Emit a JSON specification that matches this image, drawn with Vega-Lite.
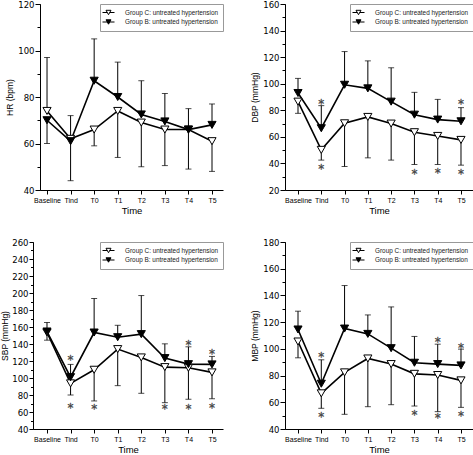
{
  "$schema": "https://vega.github.io/schema/vega-lite/v6.json",
  "autosize": {"type": "pad"},
  "padding": 0,
  "background": "white",
  "datasets": {
    "vals": [
      {"panel":"HR","group":"Group C: untreated hypertension","time":"Baseline","value":74,"err":97},
      {"panel":"HR","group":"Group C: untreated hypertension","time":"Tind","value":62,"err":72},
      {"panel":"HR","group":"Group C: untreated hypertension","time":"T0","value":66,"err":59},
      {"panel":"HR","group":"Group C: untreated hypertension","time":"T1","value":74,"err":54},
      {"panel":"HR","group":"Group C: untreated hypertension","time":"T2","value":69,"err":50},
      {"panel":"HR","group":"Group C: untreated hypertension","time":"T3","value":66,"err":50.5},
      {"panel":"HR","group":"Group C: untreated hypertension","time":"T4","value":66,"err":49},
      {"panel":"HR","group":"Group C: untreated hypertension","time":"T5","value":61,"err":48},
      {"panel":"HR","group":"Group B: untreated hypertension","time":"Baseline","value":70,"err":60},
      {"panel":"HR","group":"Group B: untreated hypertension","time":"Tind","value":61,"err":44},
      {"panel":"HR","group":"Group B: untreated hypertension","time":"T0","value":87,"err":105},
      {"panel":"HR","group":"Group B: untreated hypertension","time":"T1","value":80,"err":95},
      {"panel":"HR","group":"Group B: untreated hypertension","time":"T2","value":72.5,"err":87},
      {"panel":"HR","group":"Group B: untreated hypertension","time":"T3","value":69.5,"err":81.5},
      {"panel":"HR","group":"Group B: untreated hypertension","time":"T4","value":66,"err":75},
      {"panel":"HR","group":"Group B: untreated hypertension","time":"T5","value":68,"err":77},

      {"panel":"DBP","group":"Group C: untreated hypertension","time":"Baseline","value":86.5,"err":77.7},
      {"panel":"DBP","group":"Group C: untreated hypertension","time":"Tind","value":50.2,"err":42.5},
      {"panel":"DBP","group":"Group C: untreated hypertension","time":"T0","value":70.2,"err":37.7},
      {"panel":"DBP","group":"Group C: untreated hypertension","time":"T1","value":75,"err":44.2},
      {"panel":"DBP","group":"Group C: untreated hypertension","time":"T2","value":70,"err":42.5},
      {"panel":"DBP","group":"Group C: untreated hypertension","time":"T3","value":63.5,"err":39.2},
      {"panel":"DBP","group":"Group C: untreated hypertension","time":"T4","value":60.7,"err":39.2},
      {"panel":"DBP","group":"Group C: untreated hypertension","time":"T5","value":57.7,"err":38.7},
      {"panel":"DBP","group":"Group B: untreated hypertension","time":"Baseline","value":93,"err":104},
      {"panel":"DBP","group":"Group B: untreated hypertension","time":"Tind","value":66.5,"err":83.5},
      {"panel":"DBP","group":"Group B: untreated hypertension","time":"T0","value":99.2,"err":124.2},
      {"panel":"DBP","group":"Group B: untreated hypertension","time":"T1","value":96.5,"err":117.2},
      {"panel":"DBP","group":"Group B: untreated hypertension","time":"T2","value":86.5,"err":112},
      {"panel":"DBP","group":"Group B: untreated hypertension","time":"T3","value":76.7,"err":93.5},
      {"panel":"DBP","group":"Group B: untreated hypertension","time":"T4","value":73,"err":88.2},
      {"panel":"DBP","group":"Group B: untreated hypertension","time":"T5","value":71.7,"err":82},

      {"panel":"SBP","group":"Group C: untreated hypertension","time":"Baseline","value":153.5,"err":144.5},
      {"panel":"SBP","group":"Group C: untreated hypertension","time":"Tind","value":93.7,"err":80},
      {"panel":"SBP","group":"Group C: untreated hypertension","time":"T0","value":109.7,"err":73},
      {"panel":"SBP","group":"Group C: untreated hypertension","time":"T1","value":134,"err":91},
      {"panel":"SBP","group":"Group C: untreated hypertension","time":"T2","value":124.2,"err":82},
      {"panel":"SBP","group":"Group C: untreated hypertension","time":"T3","value":112.8,"err":71},
      {"panel":"SBP","group":"Group C: untreated hypertension","time":"T4","value":112,"err":75},
      {"panel":"SBP","group":"Group C: untreated hypertension","time":"T5","value":106.6,"err":75.6},
      {"panel":"SBP","group":"Group B: untreated hypertension","time":"Baseline","value":154.7,"err":165.3},
      {"panel":"SBP","group":"Group B: untreated hypertension","time":"Tind","value":101,"err":116},
      {"panel":"SBP","group":"Group B: untreated hypertension","time":"T0","value":153.5,"err":193.5},
      {"panel":"SBP","group":"Group B: untreated hypertension","time":"T1","value":148,"err":162},
      {"panel":"SBP","group":"Group B: untreated hypertension","time":"T2","value":151.6,"err":197},
      {"panel":"SBP","group":"Group B: untreated hypertension","time":"T3","value":123.4,"err":140.2},
      {"panel":"SBP","group":"Group B: untreated hypertension","time":"T4","value":116.3,"err":136.7},
      {"panel":"SBP","group":"Group B: untreated hypertension","time":"T5","value":116,"err":125.4},

      {"panel":"MBP","group":"Group C: untreated hypertension","time":"Baseline","value":105.5,"err":93.3},
      {"panel":"MBP","group":"Group C: untreated hypertension","time":"Tind","value":66.7,"err":55.5},
      {"panel":"MBP","group":"Group C: untreated hypertension","time":"T0","value":82.4,"err":51},
      {"panel":"MBP","group":"Group C: untreated hypertension","time":"T1","value":92.8,"err":56.7},
      {"panel":"MBP","group":"Group C: untreated hypertension","time":"T2","value":88.6,"err":58.2},
      {"panel":"MBP","group":"Group C: untreated hypertension","time":"T3","value":81.3,"err":57.2},
      {"panel":"MBP","group":"Group C: untreated hypertension","time":"T4","value":80.4,"err":53},
      {"panel":"MBP","group":"Group C: untreated hypertension","time":"T5","value":76.4,"err":56.2},
      {"panel":"MBP","group":"Group B: untreated hypertension","time":"Baseline","value":114.5,"err":128.2},
      {"panel":"MBP","group":"Group B: untreated hypertension","time":"Tind","value":73.9,"err":91.8},
      {"panel":"MBP","group":"Group B: untreated hypertension","time":"T0","value":115.2,"err":147.4},
      {"panel":"MBP","group":"Group B: untreated hypertension","time":"T1","value":111.2,"err":125.4},
      {"panel":"MBP","group":"Group B: untreated hypertension","time":"T2","value":100.5,"err":131.4},
      {"panel":"MBP","group":"Group B: untreated hypertension","time":"T3","value":89.6,"err":109.3},
      {"panel":"MBP","group":"Group B: untreated hypertension","time":"T4","value":88.6,"err":103.5},
      {"panel":"MBP","group":"Group B: untreated hypertension","time":"T5","value":87.6,"err":99.8}
    ],
    "stars": [
      {"panel":"DBP","time":"Tind","y":87.7,"mark":"*"},
      {"panel":"DBP","time":"Tind","y":39,"mark":"*"},
      {"panel":"DBP","time":"T3","y":34.7,"mark":"*"},
      {"panel":"DBP","time":"T4","y":35.7,"mark":"*"},
      {"panel":"DBP","time":"T5","y":34.7,"mark":"*"},
      {"panel":"DBP","time":"T5","y":87.5,"mark":"*"},
      {"panel":"SBP","time":"Tind","y":126,"mark":"*"},
      {"panel":"SBP","time":"Tind","y":70,"mark":"*"},
      {"panel":"SBP","time":"T0","y":68,"mark":"*"},
      {"panel":"SBP","time":"T3","y":68,"mark":"*"},
      {"panel":"SBP","time":"T4","y":143.3,"mark":"*"},
      {"panel":"SBP","time":"T4","y":68,"mark":"*"},
      {"panel":"SBP","time":"T5","y":133,"mark":"*"},
      {"panel":"SBP","time":"T5","y":69.7,"mark":"*"},
      {"panel":"MBP","time":"Tind","y":96.8,"mark":"*"},
      {"panel":"MBP","time":"Tind","y":52,"mark":"*"},
      {"panel":"MBP","time":"T3","y":53.7,"mark":"*"},
      {"panel":"MBP","time":"T4","y":108.5,"mark":"*"},
      {"panel":"MBP","time":"T4","y":51.4,"mark":"*"},
      {"panel":"MBP","time":"T5","y":104,"mark":"*"},
      {"panel":"MBP","time":"T5","y":53,"mark":"*"}
    ]
  },
  "columns": 2,
  "bounds": "flush",
  "spacing": {"row": 52, "column": 62},
  "resolve": {"scale": {"fill": "independent"}, "legend": {"fill": "independent"}},
  "concat": [
    {
      "width": 183, "height": 186,
      "resolve": {"axis": {"y": "independent"}},
      "layer": [
        {"data": {"name": "vals"}, "transform": [{"filter": "datum.panel === 'HR'"}],
         "mark": {"type": "rule", "color": "black", "strokeWidth": 1},
         "encoding": {
           "x": {"field": "time", "type": "ordinal", "scale": {"type": "point", "domain": ["Baseline","Tind","T0","T1","T2","T3","T4","T5"], "padding": 0.382, "align": 0.39}, "axis": {"title": "Time", "labelAngle": 0, "labelFontSize": 7, "labelPadding": 2, "tickSize": 4, "titleFontSize": 9.5, "titlePadding": 2, "titleFontWeight": "normal"}},
           "y": {"field": "value", "type": "quantitative", "scale": {"domain": [40,120], "nice": false, "zero": false}, "axis": {"orient": "left", "values": [40,60,80,100,120], "tickSize": 5, "labelFont": "DejaVu Sans", "labelFontSize": 8.5, "labelPadding": 1, "title": "HR (bpm)", "titleFontSize": 8.5, "titlePadding": 3, "titleFontWeight": "normal"}},
           "y2": {"field": "err"}
         }},
        {"data": {"name": "vals"}, "transform": [{"filter": "datum.panel === 'HR'"}],
         "mark": {"type": "tick", "color": "black", "size": 6, "thickness": 1, "orient": "horizontal"},
         "encoding": {
           "x": {"field": "time", "type": "ordinal", "scale": {"type": "point", "domain": ["Baseline","Tind","T0","T1","T2","T3","T4","T5"], "padding": 0.382, "align": 0.39}, "axis": {"title": "Time", "labelAngle": 0, "labelFontSize": 7, "labelPadding": 2, "tickSize": 4, "titleFontSize": 9.5, "titlePadding": 2, "titleFontWeight": "normal"}},
           "y": {"field": "err", "type": "quantitative", "axis": {"orient": "left", "values": [40,50,60,70,80,90,100,110,120], "tickSize": 3, "labels": false, "domain": false, "title": null}}
         }},
        {"data": {"name": "vals"}, "transform": [{"filter": "datum.panel === 'HR'"}],
         "mark": {"type": "line", "color": "black", "strokeWidth": 1.6},
         "encoding": {
           "x": {"field": "time", "type": "ordinal", "scale": {"type": "point", "domain": ["Baseline","Tind","T0","T1","T2","T3","T4","T5"], "padding": 0.382, "align": 0.39}, "axis": {"title": "Time", "labelAngle": 0, "labelFontSize": 7, "labelPadding": 2, "tickSize": 4, "titleFontSize": 9.5, "titlePadding": 2, "titleFontWeight": "normal"}},
           "y": {"field": "value", "type": "quantitative", "axis": null},
           "detail": {"field": "group"},
           "order": {"value": null}
         }},
        {"data": {"name": "vals"}, "transform": [{"filter": "datum.panel === 'HR'"}],
         "mark": {"type": "point", "shape": "triangle-down", "filled": true, "stroke": "black", "strokeWidth": 1, "size": 66, "opacity": 1},
         "encoding": {
           "x": {"field": "time", "type": "ordinal", "scale": {"type": "point", "domain": ["Baseline","Tind","T0","T1","T2","T3","T4","T5"], "padding": 0.382, "align": 0.39}, "axis": {"title": "Time", "labelAngle": 0, "labelFontSize": 7, "labelPadding": 2, "tickSize": 4, "titleFontSize": 9.5, "titlePadding": 2, "titleFontWeight": "normal"}},
           "y": {"field": "value", "type": "quantitative", "axis": null},
           "fill": {"field": "group", "type": "nominal", "scale": {"domain": ["Group C: untreated hypertension","Group B: untreated hypertension"], "range": ["white","black"]},
             "legend": {"title": null, "orient": "top-right", "offset": 0, "padding": 4, "strokeColor": "#999", "fillColor": "white", "symbolType": "M-1.5,0L-0.31,0M0.31,0L1.5,0M-0.625,-0.55L0.625,-0.55L0,0.55Z", "symbolSize": 64, "symbolStrokeColor": "black", "symbolStrokeWidth": 1, "labelFontSize": 6.4, "labelOffset": 12, "rowPadding": 0.5, "labelColor": "#222"}}
         }}
      ]
    },
    {
      "width": 188, "height": 186,
      "resolve": {"axis": {"y": "independent"}},
      "layer": [
        {"data": {"name": "vals"}, "transform": [{"filter": "datum.panel === 'DBP'"}],
         "mark": {"type": "rule", "color": "black", "strokeWidth": 1},
         "encoding": {
           "x": {"field": "time", "type": "ordinal", "scale": {"type": "point", "domain": ["Baseline","Tind","T0","T1","T2","T3","T4","T5"], "padding": 0.537, "align": 0.52}, "axis": {"title": "Time", "labelAngle": 0, "labelFontSize": 7, "labelPadding": 2, "tickSize": 4, "titleFontSize": 9.5, "titlePadding": 2, "titleFontWeight": "normal"}},
           "y": {"field": "value", "type": "quantitative", "scale": {"domain": [20,160], "nice": false, "zero": false}, "axis": {"orient": "left", "values": [20,40,60,80,100,120,140,160], "tickSize": 5, "labelFont": "DejaVu Sans", "labelFontSize": 8.5, "labelPadding": 1, "title": "DBP (mmHg)", "titleFontSize": 8.5, "titlePadding": 3, "titleFontWeight": "normal"}},
           "y2": {"field": "err"}
         }},
        {"data": {"name": "vals"}, "transform": [{"filter": "datum.panel === 'DBP'"}],
         "mark": {"type": "tick", "color": "black", "size": 6, "thickness": 1, "orient": "horizontal"},
         "encoding": {
           "x": {"field": "time", "type": "ordinal", "scale": {"type": "point", "domain": ["Baseline","Tind","T0","T1","T2","T3","T4","T5"], "padding": 0.537, "align": 0.52}, "axis": {"title": "Time", "labelAngle": 0, "labelFontSize": 7, "labelPadding": 2, "tickSize": 4, "titleFontSize": 9.5, "titlePadding": 2, "titleFontWeight": "normal"}},
           "y": {"field": "err", "type": "quantitative", "axis": {"orient": "left", "values": [20,30,40,50,60,70,80,90,100,110,120,130,140,150,160], "tickSize": 3, "labels": false, "domain": false, "title": null}}
         }},
        {"data": {"name": "vals"}, "transform": [{"filter": "datum.panel === 'DBP'"}],
         "mark": {"type": "line", "color": "black", "strokeWidth": 1.6},
         "encoding": {
           "x": {"field": "time", "type": "ordinal", "scale": {"type": "point", "domain": ["Baseline","Tind","T0","T1","T2","T3","T4","T5"], "padding": 0.537, "align": 0.52}, "axis": {"title": "Time", "labelAngle": 0, "labelFontSize": 7, "labelPadding": 2, "tickSize": 4, "titleFontSize": 9.5, "titlePadding": 2, "titleFontWeight": "normal"}},
           "y": {"field": "value", "type": "quantitative", "axis": null},
           "detail": {"field": "group"},
           "order": {"value": null}
         }},
        {"data": {"name": "vals"}, "transform": [{"filter": "datum.panel === 'DBP'"}],
         "mark": {"type": "point", "shape": "triangle-down", "filled": true, "stroke": "black", "strokeWidth": 1, "size": 66, "opacity": 1},
         "encoding": {
           "x": {"field": "time", "type": "ordinal", "scale": {"type": "point", "domain": ["Baseline","Tind","T0","T1","T2","T3","T4","T5"], "padding": 0.537, "align": 0.52}, "axis": {"title": "Time", "labelAngle": 0, "labelFontSize": 7, "labelPadding": 2, "tickSize": 4, "titleFontSize": 9.5, "titlePadding": 2, "titleFontWeight": "normal"}},
           "y": {"field": "value", "type": "quantitative", "axis": null},
           "fill": {"field": "group", "type": "nominal", "scale": {"domain": ["Group C: untreated hypertension","Group B: untreated hypertension"], "range": ["white","black"]},
             "legend": {"title": null, "orient": "top-right", "offset": 0, "padding": 4, "strokeColor": "#999", "fillColor": "white", "symbolType": "M-1.5,0L-0.31,0M0.31,0L1.5,0M-0.625,-0.55L0.625,-0.55L0,0.55Z", "symbolSize": 64, "symbolStrokeColor": "black", "symbolStrokeWidth": 1, "labelFontSize": 6.4, "labelOffset": 12, "rowPadding": 0.5, "labelColor": "#222"}}
         }},
        {"data": {"name": "stars"}, "transform": [{"filter": "datum.panel === 'DBP'"}],
         "mark": {"type": "text", "font": "DejaVu Sans", "fontSize": 12, "baseline": "middle", "dy": 4, "fill": "#444", "stroke": "#444", "strokeWidth": 0.3},
         "encoding": {
           "x": {"field": "time", "type": "ordinal", "scale": {"type": "point", "domain": ["Baseline","Tind","T0","T1","T2","T3","T4","T5"], "padding": 0.537, "align": 0.52}, "axis": {"title": "Time", "labelAngle": 0, "labelFontSize": 7, "labelPadding": 2, "tickSize": 4, "titleFontSize": 9.5, "titlePadding": 2, "titleFontWeight": "normal"}},
           "y": {"field": "y", "type": "quantitative", "axis": null},
           "text": {"field": "mark"}
         }}
      ]
    },
    {
      "width": 183, "height": 187,
      "resolve": {"axis": {"y": "independent"}},
      "layer": [
        {"data": {"name": "vals"}, "transform": [{"filter": "datum.panel === 'SBP'"}],
         "mark": {"type": "rule", "color": "black", "strokeWidth": 1},
         "encoding": {
           "x": {"field": "time", "type": "ordinal", "scale": {"type": "point", "domain": ["Baseline","Tind","T0","T1","T2","T3","T4","T5"], "range": [-7,183], "padding": 0.53, "align": 0.56}, "axis": {"title": "Time", "labelAngle": 0, "labelFontSize": 7, "labelPadding": 2, "tickSize": 4, "titleFontSize": 9.5, "titlePadding": 2, "titleFontWeight": "normal"}},
           "y": {"field": "value", "type": "quantitative", "scale": {"domain": [40,260], "nice": false, "zero": false}, "axis": {"orient": "left", "offset": 7, "values": [40,60,80,100,120,140,160,180,200,220,240,260], "tickSize": 4, "labelFont": "DejaVu Sans", "labelFontSize": 8.5, "labelPadding": 1, "title": "SBP (mmHg)", "titleFontSize": 8.5, "titlePadding": 2, "titleFontWeight": "normal"}},
           "y2": {"field": "err"}
         }},
        {"data": {"name": "vals"}, "transform": [{"filter": "datum.panel === 'SBP'"}],
         "mark": {"type": "tick", "color": "black", "size": 6, "thickness": 1, "orient": "horizontal"},
         "encoding": {
           "x": {"field": "time", "type": "ordinal", "scale": {"type": "point", "domain": ["Baseline","Tind","T0","T1","T2","T3","T4","T5"], "range": [-7,183], "padding": 0.53, "align": 0.56}, "axis": {"title": "Time", "labelAngle": 0, "labelFontSize": 7, "labelPadding": 2, "tickSize": 4, "titleFontSize": 9.5, "titlePadding": 2, "titleFontWeight": "normal"}},
           "y": {"field": "err", "type": "quantitative", "axis": {"orient": "left", "offset": 7, "values": [40,50,60,70,80,90,100,110,120,130,140,150,160,170,180,190,200,210,220,230,240,250,260], "tickSize": 2.5, "labels": false, "domain": false, "title": null}}
         }},
        {"data": {"name": "vals"}, "transform": [{"filter": "datum.panel === 'SBP'"}],
         "mark": {"type": "line", "color": "black", "strokeWidth": 1.6},
         "encoding": {
           "x": {"field": "time", "type": "ordinal", "scale": {"type": "point", "domain": ["Baseline","Tind","T0","T1","T2","T3","T4","T5"], "range": [-7,183], "padding": 0.53, "align": 0.56}, "axis": {"title": "Time", "labelAngle": 0, "labelFontSize": 7, "labelPadding": 2, "tickSize": 4, "titleFontSize": 9.5, "titlePadding": 2, "titleFontWeight": "normal"}},
           "y": {"field": "value", "type": "quantitative", "axis": null},
           "detail": {"field": "group"},
           "order": {"value": null}
         }},
        {"data": {"name": "vals"}, "transform": [{"filter": "datum.panel === 'SBP'"}],
         "mark": {"type": "point", "shape": "triangle-down", "filled": true, "stroke": "black", "strokeWidth": 1, "size": 66, "opacity": 1},
         "encoding": {
           "x": {"field": "time", "type": "ordinal", "scale": {"type": "point", "domain": ["Baseline","Tind","T0","T1","T2","T3","T4","T5"], "range": [-7,183], "padding": 0.53, "align": 0.56}, "axis": {"title": "Time", "labelAngle": 0, "labelFontSize": 7, "labelPadding": 2, "tickSize": 4, "titleFontSize": 9.5, "titlePadding": 2, "titleFontWeight": "normal"}},
           "y": {"field": "value", "type": "quantitative", "axis": null},
           "fill": {"field": "group", "type": "nominal", "scale": {"domain": ["Group C: untreated hypertension","Group B: untreated hypertension"], "range": ["white","black"]},
             "legend": {"title": null, "orient": "top-right", "offset": 0, "padding": 4, "strokeColor": "#999", "fillColor": "white", "symbolType": "M-1.5,0L-0.31,0M0.31,0L1.5,0M-0.625,-0.55L0.625,-0.55L0,0.55Z", "symbolSize": 64, "symbolStrokeColor": "black", "symbolStrokeWidth": 1, "labelFontSize": 6.4, "labelOffset": 12, "rowPadding": 0.5, "labelColor": "#222"}}
         }},
        {"data": {"name": "stars"}, "transform": [{"filter": "datum.panel === 'SBP'"}],
         "mark": {"type": "text", "font": "DejaVu Sans", "fontSize": 12, "baseline": "middle", "dy": 4, "fill": "#444", "stroke": "#444", "strokeWidth": 0.3},
         "encoding": {
           "x": {"field": "time", "type": "ordinal", "scale": {"type": "point", "domain": ["Baseline","Tind","T0","T1","T2","T3","T4","T5"], "range": [-7,183], "padding": 0.53, "align": 0.56}, "axis": {"title": "Time", "labelAngle": 0, "labelFontSize": 7, "labelPadding": 2, "tickSize": 4, "titleFontSize": 9.5, "titlePadding": 2, "titleFontWeight": "normal"}},
           "y": {"field": "y", "type": "quantitative", "axis": null},
           "text": {"field": "mark"}
         }}
      ]
    },
    {
      "width": 188, "height": 187,
      "resolve": {"axis": {"y": "independent"}},
      "layer": [
        {"data": {"name": "vals"}, "transform": [{"filter": "datum.panel === 'MBP'"}],
         "mark": {"type": "rule", "color": "black", "strokeWidth": 1},
         "encoding": {
           "x": {"field": "time", "type": "ordinal", "scale": {"type": "point", "domain": ["Baseline","Tind","T0","T1","T2","T3","T4","T5"], "padding": 0.537, "align": 0.52}, "axis": {"title": "Time", "labelAngle": 0, "labelFontSize": 7, "labelPadding": 2, "tickSize": 4, "titleFontSize": 9.5, "titlePadding": 2, "titleFontWeight": "normal"}},
           "y": {"field": "value", "type": "quantitative", "scale": {"domain": [40,180], "nice": false, "zero": false}, "axis": {"orient": "left", "values": [40,60,80,100,120,140,160,180], "tickSize": 5, "labelFont": "DejaVu Sans", "labelFontSize": 8.5, "labelPadding": 1, "title": "MBP (mmHg)", "titleFontSize": 8.5, "titlePadding": 3, "titleFontWeight": "normal"}},
           "y2": {"field": "err"}
         }},
        {"data": {"name": "vals"}, "transform": [{"filter": "datum.panel === 'MBP'"}],
         "mark": {"type": "tick", "color": "black", "size": 6, "thickness": 1, "orient": "horizontal"},
         "encoding": {
           "x": {"field": "time", "type": "ordinal", "scale": {"type": "point", "domain": ["Baseline","Tind","T0","T1","T2","T3","T4","T5"], "padding": 0.537, "align": 0.52}, "axis": {"title": "Time", "labelAngle": 0, "labelFontSize": 7, "labelPadding": 2, "tickSize": 4, "titleFontSize": 9.5, "titlePadding": 2, "titleFontWeight": "normal"}},
           "y": {"field": "err", "type": "quantitative", "axis": {"orient": "left", "values": [40,50,60,70,80,90,100,110,120,130,140,150,160,170,180], "tickSize": 3, "labels": false, "domain": false, "title": null}}
         }},
        {"data": {"name": "vals"}, "transform": [{"filter": "datum.panel === 'MBP'"}],
         "mark": {"type": "line", "color": "black", "strokeWidth": 1.6},
         "encoding": {
           "x": {"field": "time", "type": "ordinal", "scale": {"type": "point", "domain": ["Baseline","Tind","T0","T1","T2","T3","T4","T5"], "padding": 0.537, "align": 0.52}, "axis": {"title": "Time", "labelAngle": 0, "labelFontSize": 7, "labelPadding": 2, "tickSize": 4, "titleFontSize": 9.5, "titlePadding": 2, "titleFontWeight": "normal"}},
           "y": {"field": "value", "type": "quantitative", "axis": null},
           "detail": {"field": "group"},
           "order": {"value": null}
         }},
        {"data": {"name": "vals"}, "transform": [{"filter": "datum.panel === 'MBP'"}],
         "mark": {"type": "point", "shape": "triangle-down", "filled": true, "stroke": "black", "strokeWidth": 1, "size": 66, "opacity": 1},
         "encoding": {
           "x": {"field": "time", "type": "ordinal", "scale": {"type": "point", "domain": ["Baseline","Tind","T0","T1","T2","T3","T4","T5"], "padding": 0.537, "align": 0.52}, "axis": {"title": "Time", "labelAngle": 0, "labelFontSize": 7, "labelPadding": 2, "tickSize": 4, "titleFontSize": 9.5, "titlePadding": 2, "titleFontWeight": "normal"}},
           "y": {"field": "value", "type": "quantitative", "axis": null},
           "fill": {"field": "group", "type": "nominal", "scale": {"domain": ["Group C: untreated hypertension","Group B: untreated hypertension"], "range": ["white","black"]},
             "legend": {"title": null, "orient": "top-right", "offset": 0, "padding": 4, "strokeColor": "#999", "fillColor": "white", "symbolType": "M-1.5,0L-0.31,0M0.31,0L1.5,0M-0.625,-0.55L0.625,-0.55L0,0.55Z", "symbolSize": 64, "symbolStrokeColor": "black", "symbolStrokeWidth": 1, "labelFontSize": 6.4, "labelOffset": 12, "rowPadding": 0.5, "labelColor": "#222"}}
         }},
        {"data": {"name": "stars"}, "transform": [{"filter": "datum.panel === 'MBP'"}],
         "mark": {"type": "text", "font": "DejaVu Sans", "fontSize": 12, "baseline": "middle", "dy": 4, "fill": "#444", "stroke": "#444", "strokeWidth": 0.3},
         "encoding": {
           "x": {"field": "time", "type": "ordinal", "scale": {"type": "point", "domain": ["Baseline","Tind","T0","T1","T2","T3","T4","T5"], "padding": 0.537, "align": 0.52}, "axis": {"title": "Time", "labelAngle": 0, "labelFontSize": 7, "labelPadding": 2, "tickSize": 4, "titleFontSize": 9.5, "titlePadding": 2, "titleFontWeight": "normal"}},
           "y": {"field": "y", "type": "quantitative", "axis": null},
           "text": {"field": "mark"}
         }}
      ]
    }
  ],
  "config": {
    "view": {"stroke": null},
    "font": "Liberation Sans",
    "axis": {"domainColor": "black", "tickColor": "black", "labelColor": "black", "titleColor": "black", "grid": false, "titleFontWeight": "normal", "domainWidth": 1, "tickWidth": 1}
  }
}
